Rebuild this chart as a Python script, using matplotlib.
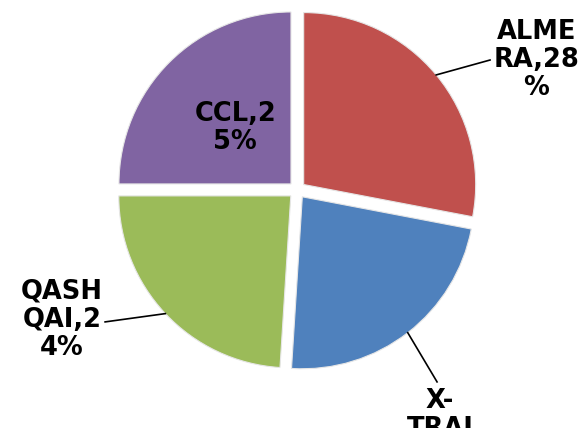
import numpy as np
import matplotlib.pyplot as plt

models = ['ALMERA', 'X-TRAIL', 'QASHQAI', 'CCL']
shares = [28, 23, 24, 25]
label_text = ['ALME\nRA,28\n%', 'X-\nTRAI\nL,23\n%', 'QASH\nQAI,2\n4%', 'CCL,2\n5%']
colors = ['#C0504D', '#4F81BD', '#9BBB59', '#8064A2']

explode = 0.05

fig = plt.figure(figsize=(5.8, 4.28), dpi=100)
ax = fig.add_axes([0, 0, 1, 1])

wedges, _ = ax.pie(shares, colors=colors, startangle=90, counterclock=False,
                   explode=[explode] * len(shares), radius=1.0,
                   wedgeprops=dict(edgecolor='#e6e6e6', linewidth=0.8))

ax.set_xlim(-1.727, 1.645)
ax.set_ylim(-1.384, 1.105)
ax.set_aspect('auto')
ax.axis('off')

font = dict(fontsize=18.5, fontweight='bold', family='DejaVu Sans',
            ha='center', multialignment='center', color='black')

# label anchors for the outside labels, with the end of each leader line
outside = {
    0: ((1.39, 0.756), (1.122, 0.756), 'center'),
    1: ((0.831, -1.151), (0.814, -1.116), 'top'),
    2: ((-1.366, -0.756), (-1.116, -0.767), 'center'),
}

for i, w in enumerate(wedges):
    mid = np.deg2rad((w.theta1 + w.theta2) / 2)
    cx = explode * np.cos(mid)
    cy = explode * np.sin(mid)
    if i in outside:
        (tx, ty), (lx, ly), va = outside[i]
        ex = cx + np.cos(mid)
        ey = cy + np.sin(mid)
        ax.plot([ex, lx], [ey, ly], color='black', lw=1.2)
        ax.text(tx, ty, label_text[i], va=va, linespacing=1.12, **font)
    else:
        ax.text(-0.36, 0.36, label_text[i], va='center', linespacing=1.12, **font)

fig.savefig('out.png', dpi=100)
